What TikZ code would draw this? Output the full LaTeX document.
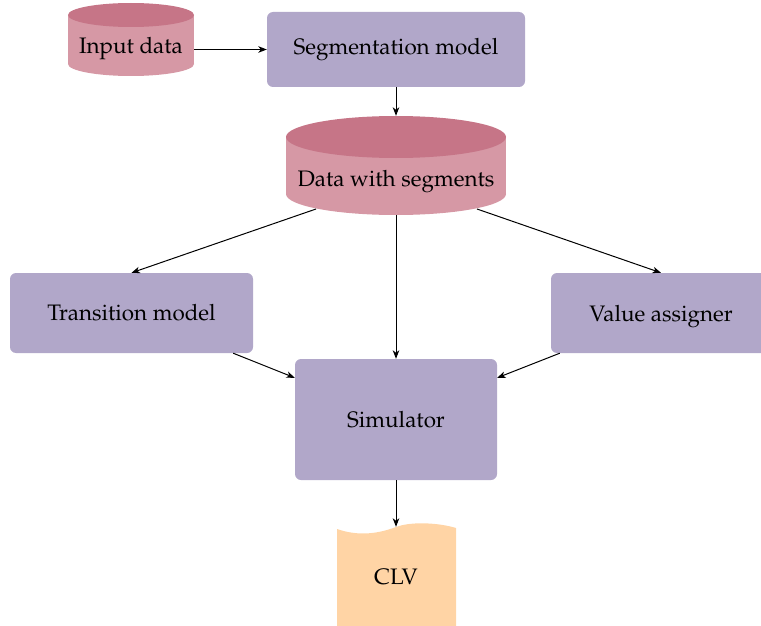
\documentclass[tikz,border=0pt]{standalone}
\usepackage[T1]{fontenc}
\usepackage{mathpazo}
\usetikzlibrary{arrows.meta}
\definecolor{boxc}{RGB}{177,167,201}
\definecolor{cylbody}{RGB}{214,152,165}
\definecolor{cyltop}{RGB}{198,117,135}
\definecolor{tapec}{RGB}{255,212,165}
\tikzset{
  lbl/.style={font=\fontsize{22.4}{26}\selectfont, inner sep=0pt, text=black},
  box/.style={lbl, rectangle, rounded corners=6pt, fill=boxc},
  arr/.style={-{Stealth[length=8.5pt,width=6.5pt,inset=2.5pt]}, line width=1pt, black},
}
\begin{document}
\begin{tikzpicture}[x=1pt,y=-1pt]
\useasboundingbox (0,0) rectangle (761,626);
% Input data cylinder
\fill[cylbody] (131,64) ellipse[x radius=63,y radius=12];
\fill[cylbody] (68,15) rectangle (194,64);
\fill[cyltop] (131,15) ellipse[x radius=63,y radius=12];
\node[lbl, minimum width=126pt] (in) at (131,49) {Input data};
% Data with segments cylinder
\fill[cylbody] (396,194) ellipse[x radius=110,y radius=21];
\fill[cylbody] (286,137) rectangle (506,194);
\fill[cyltop] (396,137) ellipse[x radius=110,y radius=21];
\node[minimum width=220pt, minimum height=99pt, inner sep=0pt] (dws) at (396,165.5) {};
\node[lbl] (dwst) at (396,182) {Data with segments};
\coordinate (dwsL) at (316,209);
\coordinate (dwsR) at (477,209);
% boxes
\node[box, minimum width=258pt, minimum height=75pt] (seg) at (396,49.5) {Segmentation model};
\node[box, minimum width=243pt, minimum height=80pt] (tm) at (131.5,313) {Transition model};
\node[box, minimum width=220pt, minimum height=80pt, text depth=0pt] (va) at (661,313) {Value assigner};
\node[box, minimum width=202pt, minimum height=121pt] (sim) at (396,419.5) {Simulator};
% CLV tape
\fill[tapec] (337,529) .. controls (360,537) and (380,533) .. (396,527) .. controls (412,521) and (440,523) .. (456,528) -- (456,640) -- (337,640) -- cycle;
\node[lbl, minimum height=100pt] (clv) at (396,577) {CLV};
% connectors
\draw[arr] (in.east |- seg.west) -- (seg.west);
\draw[arr] (seg.south) -- (dws.north);
\draw[arr] (dwsL) -- (tm.north);
\draw[arr] (dwsR) -- (va.north);
\draw[arr] (dws.south) -- (sim.north);
\draw[arr] ([xshift=-20pt]tm.south east) -- ([yshift=-19pt]sim.north west);
\draw[arr] ([xshift=9pt]va.south west) -- ([yshift=-19pt]sim.north east);
\draw[arr] (sim.south) -- (clv.north);
\end{tikzpicture}
\end{document}
